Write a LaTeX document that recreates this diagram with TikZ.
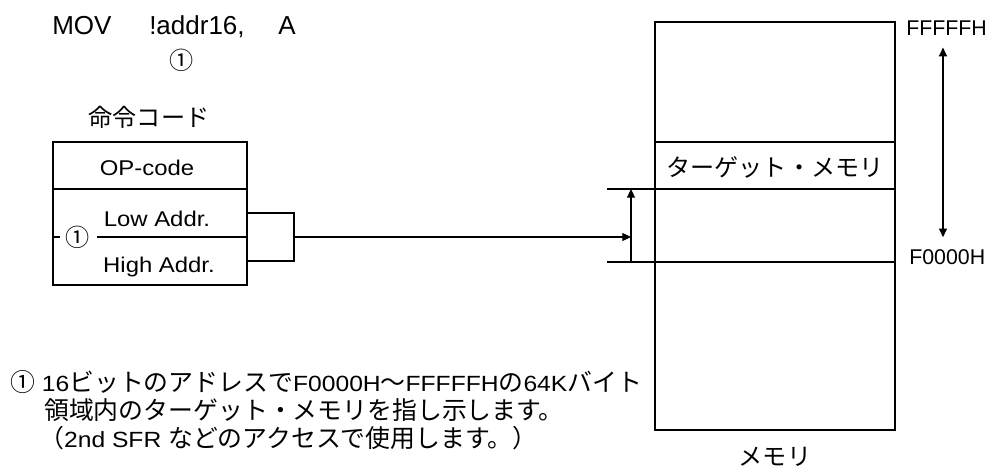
\documentclass[tikz,border=0pt]{standalone}
\usepackage{fontspec}
\setmainfont{Liberation Sans}
\newfontfamily\widesans{Liberation Sans}[FakeStretch=1.12]
\newfontfamily\jp{Noto Sans CJK JP}[Scale=1.13]
\usetikzlibrary{arrows.meta,positioning}

\begin{document}
\begin{tikzpicture}[x=0.75pt,y=-0.75pt,
    every node/.style={font=\fontsize{16}{19}\selectfont,inner sep=0pt},
    jptext/.style={font=\fontsize{16}{19}\selectfont\jp},
    celltext/.style={font=\fontsize{16}{19}\selectfont\widesans,anchor=base},
    notetext/.style={font=\fontsize{16.5}{19}\selectfont\widesans,anchor=base west},
    bigtext/.style={font=\fontsize{19.5}{23}\selectfont,anchor=base west},
    heavybox/.style={line width=2.1pt},
    thinline/.style={line width=0.9pt},
    conn/.style={line width=0.8pt},
    arrowline/.style={-{Triangle[length=6.5pt,width=6pt]}},
    rangeline/.style={{Triangle[length=6.5pt,width=6pt]}-{Triangle[length=6.5pt,width=6pt]}}]
  \useasboundingbox (0,0) rectangle (990,468);

  % instruction
  \node[bigtext] (mov) at (52,34) {MOV};
  \node[bigtext] (addr) at (149,34) {!addr16,};
  \node[bigtext] (acc) at (278,34) {A};
  \node[jptext] (mark) at (182,60) {①};

  % instruction code box
  \node[jptext] (code) at (149,117) {命令コード};
  \draw[thinline] (53,189) -- (247,189);
  \draw[thinline] (97,237) -- (247,237);
  \draw[thinline] (53,237) -- (60,237);
  \draw[heavybox] (53,142) rectangle (247,285);
  \node[celltext] (op) at (147,175) {OP-code};
  \node[celltext] (low) at (157,226) {Low Addr.};
  \node[celltext] (high) at (159,272) {High Addr.};
  \node[jptext] (opnd) at (78,237) {①};

  \coordinate (lowend) at (247,213);
  \coordinate (highend) at (247,261);
  \coordinate (brk) at (294,237);
  \coordinate (tgt) at (631,237);
  \draw[conn] (lowend) -| (294,261) -- (highend);
  \draw[conn,arrowline] (brk) -- (tgt);

  % memory map
  \draw[thinline] (655,142) -- (895,142);
  \draw[thinline] (607,189) -- (895,189);
  \draw[thinline] (607,262) -- (895,262);
  \draw[heavybox] (655,22) rectangle (895,430);
  \coordinate (basept) at (631,262);
  \coordinate (toppt) at (631,189);
  \draw[conn,arrowline] (basept) -- (toppt);
  \node[jptext] (target) at (775,167) {ターゲット・メモリ};
  \node[jptext] (mem) at (775,457) {メモリ};

  \node[anchor=west] (hiaddr) at (906,28) {FFFFFH};
  \node[anchor=west] (loaddr) at (909,257) {F0000H};
  \coordinate (rngx) at (943,0);
  \draw[conn,rangeline,shorten <=9pt,shorten >=9pt] (hiaddr.south -| rngx) -- (loaddr.north -| rngx);

  % note
  \node[notetext] (note1) at (10,391)
    {{\jp ①} 16{\jp ビットのアドレスで}F0000H{\jp ～}FFFFFH{\jp の}64K{\jp バイト}};
  \node[notetext] (note2) at (44,419) {{\jp 領域内のターゲット・メモリを指し示します。}};
  \node[notetext] (note3) at (39,447) {{\jp （}2nd SFR {\jp などのアクセスで使用します。）}};
\end{tikzpicture}
\end{document}
